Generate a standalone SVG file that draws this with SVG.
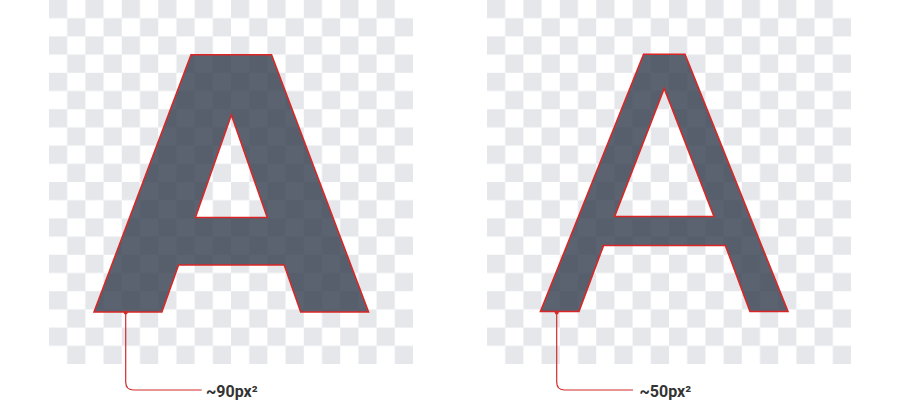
<svg xmlns="http://www.w3.org/2000/svg" width="901" height="414" viewBox="0 0 901 414">
  <style>
    .glyph { font-family: "DejaVu Sans", sans-serif; font-size: 353px; fill: #374151; fill-opacity: 0.82; stroke: #dc2626; stroke-width: 1.5; text-anchor: middle; }
    .leader { fill: none; stroke: #d42a2a; stroke-width: 1.2; }
    .dot { fill: #d42a2a; }
    .label { font-family: Roboto, "Liberation Sans", sans-serif; font-size: 16px; font-weight: 700; fill: #333333; }
  </style>
  <defs>
    <pattern id="checkL" patternUnits="userSpaceOnUse" x="49" y="0" width="36.4" height="36.4">
      <rect width="36.4" height="36.4" fill="#ffffff"/>
      <rect x="0" y="0" width="18.2" height="18.2" fill="#e5e7eb"/>
      <rect x="18.2" y="18.2" width="18.2" height="18.2" fill="#e5e7eb"/>
    </pattern>
    <pattern id="checkR" patternUnits="userSpaceOnUse" x="487" y="0" width="36.4" height="36.4">
      <rect width="36.4" height="36.4" fill="#ffffff"/>
      <rect x="0" y="0" width="18.2" height="18.2" fill="#e5e7eb"/>
      <rect x="18.2" y="18.2" width="18.2" height="18.2" fill="#e5e7eb"/>
    </pattern>
  </defs>
  <rect width="901" height="414" fill="#ffffff"/>
  <rect id="boardL" x="49" y="0" width="364" height="364" fill="url(#checkL)"/>
  <rect id="boardR" x="487" y="0" width="364" height="364" fill="url(#checkR)"/>
  <g id="glyph-bold" transform="translate(231.3,0) scale(1.018,1) translate(-231.3,0)">
    <text class="glyph" x="231.3" y="312" font-weight="700">A</text>
  </g>
  <g id="glyph-regular" transform="translate(664.3,0) scale(1.05,1) translate(-664.3,0)">
    <text class="glyph" x="664.3" y="311.5" font-weight="400">A</text>
  </g>
  <g id="connectors">
    <path class="leader" d="M125.7,312.5 V382 Q125.7,390 133.7,390 H201.7"/>
    <circle class="dot" cx="125.7" cy="312.5" r="2"/>
    <path class="leader" d="M556.7,312.5 V382 Q556.7,390 564.7,390 H633"/>
    <circle class="dot" cx="556.7" cy="312.5" r="2"/>
  </g>
  <g id="label-bold">
    <text class="label" x="206" y="396.5">~90px²</text>
  </g>
  <g id="label-regular">
    <text class="label" x="639.5" y="396.5">~50px²</text>
  </g>
</svg>
